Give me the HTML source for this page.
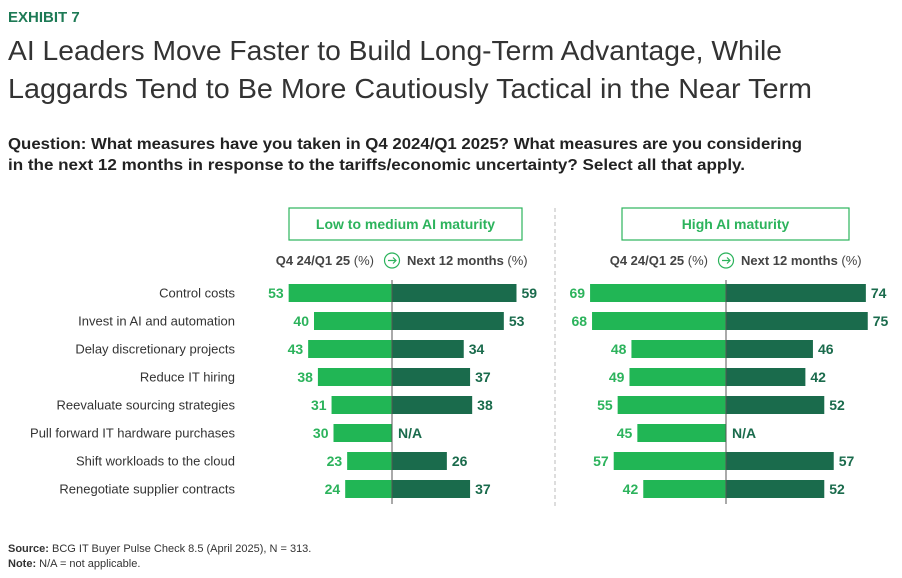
<!DOCTYPE html>
<html><head><meta charset="utf-8"><style>
html,body{margin:0;padding:0;background:#fff;}
svg{display:block;font-family:"Liberation Sans",sans-serif;}
</style></head><body>
<svg id="chart" width="902" height="578" viewBox="0 0 902 578">
<text x="8" y="22" font-size="15" font-weight="bold" fill="#1d7a55">EXHIBIT 7</text>
<text x="8" y="60" font-size="28" fill="#333" textLength="774" lengthAdjust="spacingAndGlyphs">AI Leaders Move Faster to Build Long-Term Advantage, While</text>
<text x="8" y="98" font-size="28" fill="#333" textLength="804" lengthAdjust="spacingAndGlyphs">Laggards Tend to Be More Cautiously Tactical in the Near Term</text>
<text x="8" y="149" font-size="15.5" font-weight="bold" fill="#222" textLength="794" lengthAdjust="spacingAndGlyphs">Question: What measures have you taken in Q4 2024/Q1 2025? What measures are you considering</text>
<text x="8" y="170" font-size="15.5" font-weight="bold" fill="#222" textLength="737" lengthAdjust="spacingAndGlyphs">in the next 12 months in response to the tariffs/economic uncertainty? Select all that apply.</text>
<line x1="555" y1="208" x2="555" y2="506" stroke="#bbb" stroke-dasharray="4,3"/>
<g id="plots"></g>
<text x="8" y="552" font-size="11" fill="#333"><tspan font-weight="bold">Source:</tspan> BCG IT Buyer Pulse Check 8.5 (April 2025), N = 313.</text>
<text x="8" y="567" font-size="11" fill="#333"><tspan font-weight="bold">Note:</tspan> N/A = not applicable.</text>
</svg>
<script>
const categories=["Control costs","Invest in AI and automation","Delay discretionary projects","Reduce IT hiring","Reevaluate sourcing strategies","Pull forward IT hardware purchases","Shift workloads to the cloud","Renegotiate supplier contracts"];
const lowCurrent=[53,40,43,38,31,30,23,24];
const lowNext=[59,53,34,37,38,null,26,37];
const highCurrent=[69,68,48,49,55,45,57,42];
const highNext=[74,75,46,42,52,null,57,52];
const panelTitles=["Low to medium AI maturity","High AI maturity"];
const NS="http://www.w3.org/2000/svg";
const g=document.getElementById('plots');
function el(t,a,txt){const e=document.createElementNS(NS,t);for(const k in a)e.setAttribute(k,a[k]);if(txt!=null)e.textContent=txt;g.appendChild(e);return e;}
function yRow(i){return 293+i*28;}
const panels=[{cx:392,sl:1.95,sr:2.11,box:[289,522],cur:lowCurrent,nxt:lowNext,t:panelTitles[0]},
              {cx:726,sl:1.97,sr:1.89,box:[622,849],cur:highCurrent,nxt:highNext,t:panelTitles[1]}];
panels.forEach((p,pi)=>{
  let e=el('rect',{x:p.box[0],y:208,width:p.box[1]-p.box[0],height:32,fill:'#fff',stroke:'#2cb35c','stroke-width':1.2});
  
  
  e=el('text',{x:(p.box[0]+p.box[1])/2,y:229,'font-size':14,'font-weight':'bold',fill:'#2cb35c','text-anchor':'middle'},p.t);
  
  
  e=el('text',{x:p.cx-18,y:265,'font-size':13,'font-weight':'bold',fill:'#444','text-anchor':'end'},'Q4 24/Q1 25 ');
  
  
  const ts=document.createElementNS(NS,'tspan');ts.setAttribute('font-weight','normal');ts.textContent='(%)';e.appendChild(ts);
  e=el('circle',{cx:p.cx,cy:260.5,r:7.5,fill:'none',stroke:'#2cb35c','stroke-width':1.2});
  
  
  e=el('path',{d:`M${p.cx-4} 260.5 H${p.cx+4} M${p.cx+1} 257.5 L${p.cx+4} 260.5 L${p.cx+1} 263.5`,fill:'none',stroke:'#2cb35c','stroke-width':1.2});
  
  
  e=el('text',{x:p.cx+15,y:265,'font-size':13,'font-weight':'bold',fill:'#444'},'Next 12 months ');
  
  
  const ts2=document.createElementNS(NS,'tspan');ts2.setAttribute('font-weight','normal');ts2.textContent='(%)';e.appendChild(ts2);
  categories.forEach((c,i)=>{
    const y=yRow(i);
    if(pi===0){
      e=el('text',{x:235,y:y+4.5,'font-size':13,fill:'#333','text-anchor':'end'},c);
      
      
    }
    const w=p.cur[i]*p.sl;
    e=el('rect',{x:p.cx-w,y:y-9,width:w,height:18,fill:'#21b655'});
    
    
    e=el('text',{x:p.cx-w-5,y:y+5,'font-size':14,'font-weight':'bold',fill:'#2cb35c','text-anchor':'end'},String(p.cur[i]));
    
    
    if(p.nxt[i]==null){
      e=el('text',{x:p.cx+6,y:y+5,'font-size':14,'font-weight':'bold',fill:'#1a6b4c'},'N/A');
      
      
    }else{
      const w2=p.nxt[i]*p.sr;
      e=el('rect',{x:p.cx,y:y-9,width:w2,height:18,fill:'#1a6b4c'});
      
      
      e=el('text',{x:p.cx+w2+5,y:y+5,'font-size':14,'font-weight':'bold',fill:'#1a6b4c'},String(p.nxt[i]));
      
      
    }
  });
  e=el('line',{x1:p.cx,y1:280,x2:p.cx,y2:504,stroke:'#555','stroke-width':1});
  
  
});
</script>
</body></html>
